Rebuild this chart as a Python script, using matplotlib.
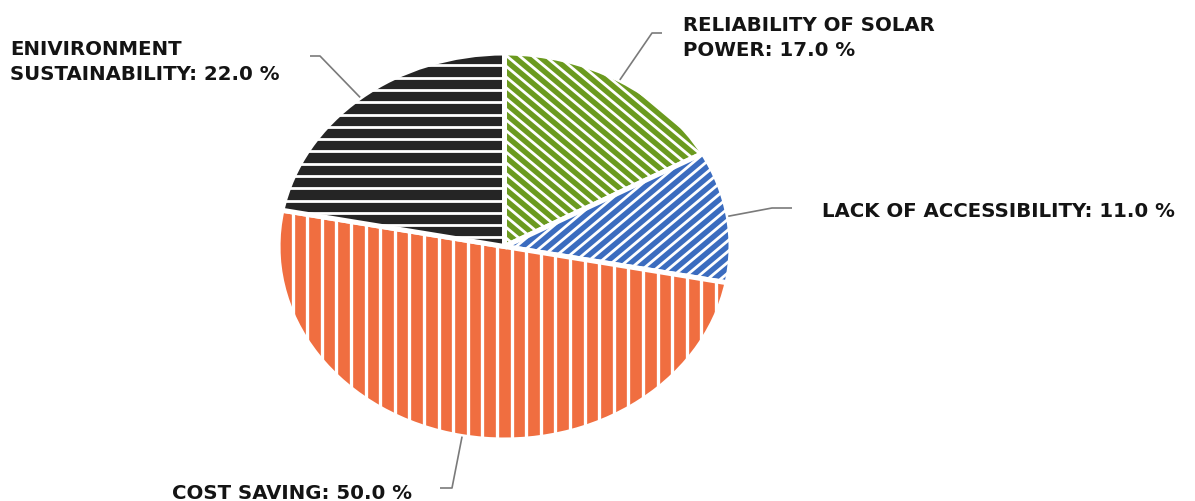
import numpy as np
import matplotlib
matplotlib.use("Agg")
import matplotlib.pyplot as plt
from matplotlib.collections import LineCollection

# ---- data -------------------------------------------------------------
categories = ["RELIABILITY OF SOLAR\nPOWER", "LACK OF ACCESSIBILITY",
              "COST SAVING", "ENIVIRONMENT\nSUSTAINABILITY"]
shares = [17.0, 11.0, 50.0, 22.0]
colors = ["#6b9a1f", "#3b6cbf", "#f06e40", "#252525"]

# ---- figure -----------------------------------------------------------
W, H = 1195, 502
fig = plt.figure(figsize=(W / 100, H / 100), dpi=100)
fig.patch.set_facecolor("white")

# pie axes: unit circle stretched into an ellipse by the axes box
cx, cy, rx, ry = 504.5, 247.5, 226.5, 193.5
ax = fig.add_axes([(cx - rx) / W, (H - cy - ry) / H, 2 * rx / W, 2 * ry / H])
wedges, _ = ax.pie(shares, colors=colors, startangle=90, counterclock=False,
                   wedgeprops=dict(edgecolor="white", linewidth=3.6))
ax.set_aspect("auto")
ax.set_xlim(-1, 1)
ax.set_ylim(-1, 1)
ax.axis("off")

# overlay axes in pixel units (y downward) for hatching, leaders and labels
ov = fig.add_axes([0, 0, 1, 1], zorder=5)
ov.set_xlim(0, W)
ov.set_ylim(H, 0)
ov.axis("off")
ov.patch.set_visible(False)


def hatch_segments(kind, period, slope=0.0):
    segs = []
    if kind == "v":
        for x in np.arange(cx - rx - period, cx + rx + period, period):
            segs.append([(x, 0), (x, H)])
    elif kind == "h":
        for y in np.arange(cy - ry - period, cy + ry + period, period):
            segs.append([(0, y), (W, y)])
    else:
        x_a, x_b = cx - rx - 50, cx + rx + 50
        for x0 in np.arange(cx - 3 * rx, cx + 3 * rx, period):
            segs.append([(x_a, cy + slope * (x_a - x0)),
                         (x_b, cy + slope * (x_b - x0))])
    return segs


tan40 = np.tan(np.radians(40))
hatch_styles = [("d", 12.8, tan40, 2.8),    # down-right diagonals
                ("d", 12.8, -tan40, 2.8),   # up-right diagonals
                ("v", 14.6, 0.0, 3.3),      # vertical stripes
                ("h", 12.3, 0.0, 2.8)]      # horizontal stripes

for w, (kind, period, slope, lw_px) in zip(wedges, hatch_styles):
    lc = LineCollection(hatch_segments(kind, period, slope), colors="white",
                        linewidths=lw_px * 0.72)
    ov.add_collection(lc)
    lc.set_clip_path(w)

# ---- leader lines and labels -----------------------------------------
fracs = np.array(shares) / sum(shares)
mid_deg = 90 - 360 * (np.cumsum(fracs) - fracs / 2)

label_layout = [  # (elbow, line end, text x, text top)
    ((652, 34), (662, 34), 683, 16),
    ((772, 209), (792, 209), 822, 202),
    ((452, 489), (440, 489), 172, 484),
    ((320, 57), (310, 57), 10, 40),
]

to_ov = ov.transData.inverted()
for cat, val, ang, (elbow, end, tx, ty) in zip(categories, shares, mid_deg,
                                               label_layout):
    a = np.radians(ang)
    start = to_ov.transform(ax.transData.transform((np.cos(a), np.sin(a))))
    ov.plot([start[0], elbow[0], end[0]], [start[1], elbow[1], end[1]],
            color="#7a7a7a", lw=1.2, solid_capstyle="butt")
    ov.text(tx, ty, f"{cat}: {val:.1f} %", ha="left", va="top",
            fontsize=14.25, fontweight="bold", family="DejaVu Sans",
            color="#141414", linespacing=1.42)

fig.savefig("out.png", dpi=100, facecolor="white")
